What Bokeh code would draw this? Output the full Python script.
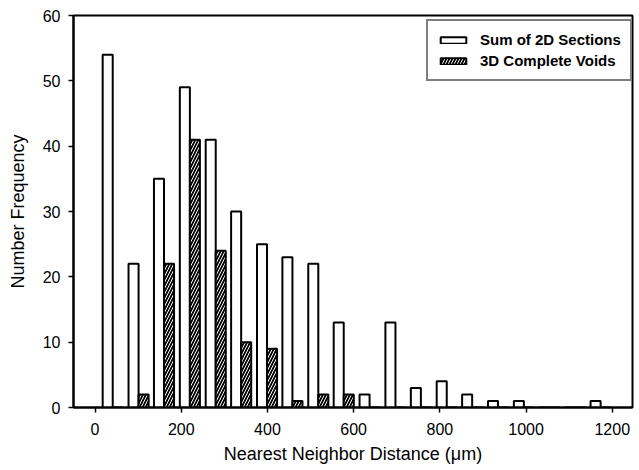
from bokeh.plotting import figure
from bokeh.models import ColumnDataSource, FixedTicker, Range1d
from bokeh.transform import dodge
from bokeh.embed import file_html
from bokeh.resources import INLINE

# Bin centres of nearest-neighbour distance (um)
bin_centers = [41, 101, 160, 220, 280, 339, 399, 458, 518, 577,
               637, 697, 756, 816, 875, 935, 995, 1054, 1114, 1173]
# Frequencies
sum_2d_sections = [54, 22, 35, 49, 41, 30, 25, 23, 22, 13,
                   2, 13, 3, 4, 2, 1, 1, 0, 0, 1]
complete_voids_3d = [0, 2, 22, 41, 24, 10, 9, 1, 2, 2,
                     0, 0, 0, 0, 0, 0, 0, 0, 0, 0]
x_ticks = [0, 200, 400, 600, 800, 1000, 1200]
y_ticks = [0, 10, 20, 30, 40, 50, 60]

src = ColumnDataSource(dict(center=bin_centers, s2d=sum_2d_sections, v3d=complete_voids_3d))

FONT = "Liberation Sans"
BAR_W = 23.3

p = figure(width=638, height=468, output_backend="svg", toolbar_location=None,
           x_range=Range1d(-50, 1247), y_range=Range1d(0, 60),
           min_border_left=73, min_border_right=6, min_border_top=15, min_border_bottom=61)

p.vbar(x=dodge('center', -BAR_W / 2, range=p.x_range), top='s2d', width=BAR_W, source=src,
       fill_color="white", line_color="black", line_width=2,
       legend_label="Sum of 2D Sections")
p.vbar(x=dodge('center', BAR_W / 2, range=p.x_range), top='v3d', width=BAR_W, source=src,
       fill_color="black", line_color="black", line_width=2,
       hatch_pattern="/", hatch_color="white", hatch_scale=6, hatch_weight=1,
       legend_label="3D Complete Voids")

p.xgrid.visible = False
p.ygrid.visible = False
p.outline_line_color = "black"
p.outline_line_width = 2
p.background_fill_color = "white"
p.border_fill_color = "white"

p.xaxis.ticker = FixedTicker(ticks=x_ticks)
p.yaxis.ticker = FixedTicker(ticks=y_ticks)
for ax in (p.xaxis[0], p.yaxis[0]):
    ax.axis_line_width = 2
    ax.axis_line_color = "black"
    ax.major_tick_line_width = 1.5
    ax.major_tick_line_color = "black"
    ax.major_tick_out = 5
    ax.major_tick_in = 0
    ax.minor_tick_line_color = None
    ax.major_label_text_font = FONT
    ax.major_label_text_font_size = "16px"
    ax.major_label_text_color = "black"
    ax.axis_label_text_font = FONT
    ax.axis_label_text_font_size = "18px"
    ax.axis_label_text_font_style = "normal"
    ax.axis_label_text_color = "black"

p.xaxis.major_label_standoff = 10
p.yaxis.major_label_standoff = 8
p.xaxis.axis_label = "Nearest Neighbor Distance (\u03bcm)"
p.yaxis.axis_label = "Number Frequency"
p.xaxis.axis_label_standoff = 6
p.yaxis.axis_label_standoff = 12

lg = p.legend[0]
lg.location = (353, 326)
lg.label_text_font = FONT
lg.label_text_font_size = "15px"
lg.label_text_font_style = "bold"
lg.label_text_color = "black"
lg.glyph_width = 32
lg.glyph_height = 8
lg.label_standoff = 11
lg.label_height = 19
lg.spacing = 2
lg.padding = 9
lg.margin = 0
lg.border_line_color = "black"
lg.border_line_width = 2
lg.background_fill_color = "white"
lg.background_fill_alpha = 1

open("out.html", "w").write(file_html(p, INLINE))
